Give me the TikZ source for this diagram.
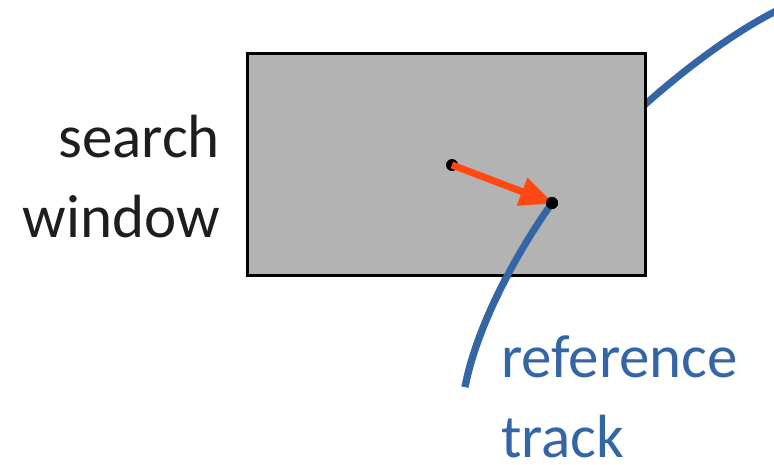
\documentclass[tikz,border=0pt]{standalone}
\usepackage{fontspec}
\setmainfont{Carlito}
\usetikzlibrary{arrows.meta}
\definecolor{trackblue}{RGB}{52,102,166}
\definecolor{arrowred}{RGB}{255,72,18}
\definecolor{wingray}{RGB}{179,179,179}
\definecolor{labgray}{RGB}{30,30,30}
\tikzset{
  track/.style={draw=trackblue, line width=7pt},
  winbox/.style={draw=black, fill=wingray, line width=3.2pt},
  dot/.style={circle, fill=black, inner sep=0pt, minimum size=12pt},
  bigtext/.style={inner sep=0pt, font=\fontsize{61}{80}\selectfont},
  motion/.style={draw=arrowred, line width=7pt, -{Triangle[length=34pt,width=28pt]}, shorten >=-2pt}
}
\begin{document}
\begin{tikzpicture}[x=1pt,y=-1pt]
\useasboundingbox (0,0) rectangle (774,464);
% full reference track (upper part hidden by the window)
\coordinate (tstart) at (465,387);
\coordinate (tend) at (776,11);
\draw[track] (tstart) .. controls (478,320) and (522,245) .. (552,203)
  .. controls (590,150) and (690,55) .. (tend);
% search window
\node[winbox, minimum width=398pt, minimum height=222pt, anchor=north west, inner sep=0pt] (win) at (246,52) {};
% visible lower part of the track
\draw[track] (tstart) .. controls (478,320) and (522,245) .. (552,203);
% points and motion vector
\node[dot] (p0) at (452,165) {};
\node[dot] (p1) at (552,203) {};
\draw[motion] (p0.center) -- (p1.center);
\node[dot] at (p1) {};
% labels
\node[bigtext, align=right, anchor=base east, text=labgray] (lab) at (220,237) {search\\window};
\node[bigtext, align=left, anchor=base west, text=trackblue] (lab2) at (501,457) {reference\\track};
\end{tikzpicture}
\end{document}
